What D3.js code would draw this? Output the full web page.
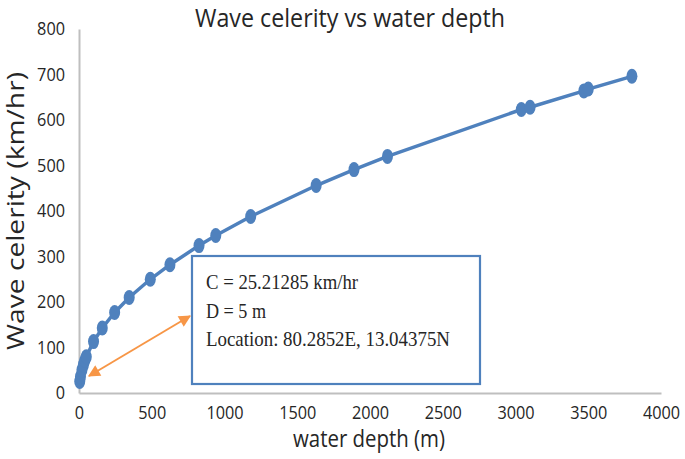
<!DOCTYPE html>
<html>
<head>
<meta charset="utf-8">
<script src="https://cdn.jsdelivr.net/npm/d3@7"></script>
<style>
  body { margin: 0; background: #fff; }
  text { fill: #262626; }
</style>
</head>
<body>
<svg id="svg" width="685" height="459"></svg>
<script>
// values
var depth = [5, 10, 20, 30, 40, 50, 100, 160, 245, 345, 490, 625, 825, 940, 1180, 1630, 1890, 2120, 3040, 3100, 3470, 3500, 3800];
var celerity = [25.2, 35.7, 50.4, 61.8, 71.3, 79.7, 113, 143, 177, 210, 250, 282, 324, 346, 388, 456, 491, 520, 623, 628, 664, 668, 696];
var xTicks = [0, 500, 1000, 1500, 2000, 2500, 3000, 3500, 4000];
var yTicks = [0, 100, 200, 300, 400, 500, 600, 700, 800];
var note = ['C = 25.21285 km/hr', 'D = 5 m', 'Location: 80.2852E, 13.04375N'];

var blue = '#4f81bd',
    orange = '#f79646',
    grey = '#bfbfbf';

var s = d3.select('#svg');

var x = d3.scaleLinear().domain([0, 4000]).range([79, 661]);
var y = d3.scaleLinear().domain([0, 800]).range([393, 29]);

// axes
var gx = s.append('g')
    .attr('transform', 'translate(0,' + y(0) + ')')
    .call(d3.axisBottom(x).tickValues(xTicks).tickFormat(d3.format('d')).tickSize(0).tickPadding(13));
var gy = s.append('g')
    .attr('transform', 'translate(' + x(0) + ',0)')
    .call(d3.axisLeft(y).tickValues(yTicks).tickFormat(d3.format('d')).tickSize(0).tickPadding(14));

[gx, gy].forEach(function(g){
    g.select('.domain').attr('stroke', grey).attr('stroke-width', 2);
    g.selectAll('text')
        .attr('font-family', 'Open Sans')
        .attr('font-size', 18)
        .attr('fill', '#262626')
        .attr('textLength', function(d){ return String(d).length * 9.3; })
        .attr('lengthAdjust', 'spacingAndGlyphs');
});

// series line
var pts = depth.map(function(d, i){ return [d, celerity[i]]; });
s.append('path')
    .datum(pts)
    .attr('fill', 'none')
    .attr('stroke', blue)
    .attr('stroke-width', 3.5)
    .attr('d', d3.line().x(function(d){ return x(d[0]); }).y(function(d){ return y(d[1]); }));

s.selectAll('.dot')
    .data(pts)
    .enter()
    .append('ellipse')
    .attr('class', 'dot')
    .attr('cx', function(d){ return x(d[0]); })
    .attr('cy', function(d){ return y(d[1]); })
    .attr('rx', 5.5)
    .attr('ry', 7.5)
    .attr('fill', blue);

// annotation box
s.append('rect')
    .attr('x', 192)
    .attr('y', 256)
    .attr('width', 288)
    .attr('height', 128)
    .attr('fill', '#fff')
    .attr('stroke', blue)
    .attr('stroke-width', 2.2);

var noteLen = [152, 60, 244];
s.selectAll('.note')
    .data(note)
    .enter()
    .append('text')
    .attr('class', 'note')
    .attr('x', 206)
    .attr('y', function(d, i){ return 289 + i * 28.5; })
    .attr('font-family', 'Liberation Serif')
    .attr('font-size', 21)
    .attr('textLength', function(d, i){ return noteLen[i]; })
    .attr('lengthAdjust', 'spacingAndGlyphs')
    .text(function(d){ return d; });

// double headed arrow
var defs = s.append('defs');
defs.append('marker')
    .attr('id', 'head')
    .attr('viewBox', '0 0 10 10')
    .attr('refX', 9)
    .attr('refY', 5)
    .attr('markerWidth', 15)
    .attr('markerHeight', 12)
    .attr('markerUnits', 'userSpaceOnUse')
    .attr('orient', 'auto-start-reverse')
    .append('path')
    .attr('d', 'M0,0 L10,5 L0,10 Z')
    .attr('fill', orange);

s.append('line')
    .attr('x1', 89)
    .attr('y1', 376)
    .attr('x2', 190)
    .attr('y2', 316)
    .attr('stroke', orange)
    .attr('stroke-width', 2)
    .attr('marker-start', 'url(#head)')
    .attr('marker-end', 'url(#head)');

// titles
s.append('text')
    .attr('x', 350)
    .attr('y', 27)
    .attr('text-anchor', 'middle')
    .attr('font-family', 'Open Sans')
    .attr('font-size', 26)
    .attr('textLength', 310)
    .attr('lengthAdjust', 'spacingAndGlyphs')
    .text('Wave celerity vs water depth');

s.append('text')
    .attr('x', 369)
    .attr('y', 447)
    .attr('text-anchor', 'middle')
    .attr('font-family', 'Open Sans')
    .attr('font-size', 23)
    .attr('textLength', 152)
    .attr('lengthAdjust', 'spacingAndGlyphs')
    .text('water depth (m)');

s.append('text')
    .attr('transform', 'translate(24,211) rotate(-90)')
    .attr('text-anchor', 'middle')
    .attr('font-family', 'Open Sans')
    .attr('font-size', 23)
    .attr('textLength', 278)
    .attr('lengthAdjust', 'spacingAndGlyphs')
    .text('Wave celerity (km/hr)');
</script>
</body>
</html>
